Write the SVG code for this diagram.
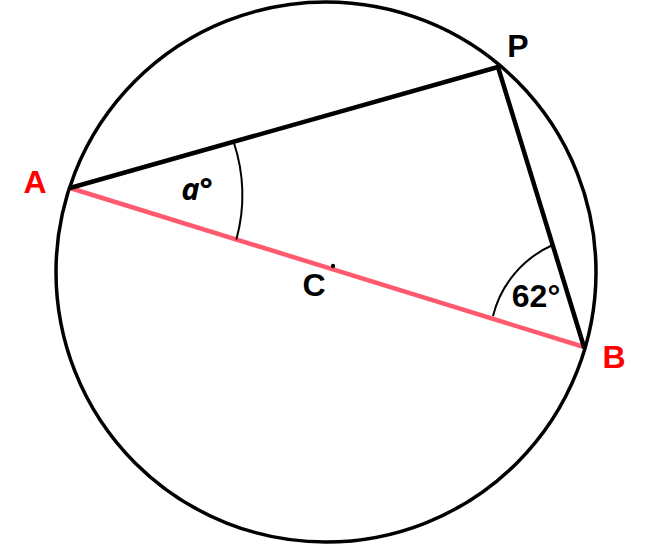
<svg xmlns="http://www.w3.org/2000/svg" width="648" height="545" viewBox="0 0 648 545">
<style>
.lbl{font-family:"Liberation Sans",Arial,sans-serif;font-weight:bold;font-size:32px;text-anchor:middle}
.ital{font-family:"Open Sans","Liberation Sans",sans-serif;font-style:italic;font-size:31px}
.red{fill:#ff0000}
.blk{fill:#000}
</style>
<rect width="648" height="545" fill="#fff"/>
<g id="circle"><circle cx="326" cy="272" r="270" fill="none" stroke="#000" stroke-width="3.5"/></g>
<g id="connectors">
<line id="AB" x1="70" y1="188" x2="584" y2="347" stroke="#ff5a6e" stroke-width="4.5"/>
<line id="AP" x1="70" y1="188" x2="498" y2="67" stroke="#000" stroke-width="4.5" stroke-linecap="round"/>
<line id="PB" x1="498" y1="67" x2="584" y2="347" stroke="#000" stroke-width="4.5" stroke-linecap="round"/>
<path id="arcA" d="M233.6 141.7 A170 170 0 0 1 236.4 239.5" fill="none" stroke="#000" stroke-width="2"/>
<path id="arcB" d="M552.6 245 A106 106 0 0 0 493 316" fill="none" stroke="#000" stroke-width="2"/>
</g>
<g id="C"><circle cx="333" cy="266" r="2.2" fill="#000"/><text class="lbl blk" x="314" y="296">C</text></g>
<g id="A"><text class="lbl red" x="35" y="193">A</text></g>
<g id="P"><text class="lbl blk" x="518" y="57">P</text></g>
<g id="B"><text class="lbl red" x="614" y="368">B</text></g>
<g id="angleA"><text class="lbl ital blk" x="197" y="200">a°</text></g>
<g id="angleB"><text class="lbl blk" x="536" y="307">62°</text></g>
</svg>
